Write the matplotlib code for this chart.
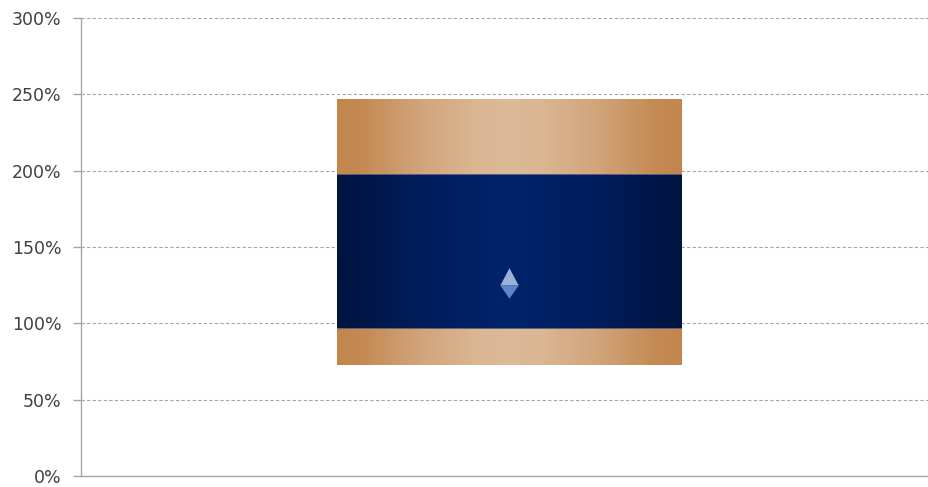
import numpy as np
import matplotlib.pyplot as plt
from matplotlib.colors import LinearSegmentedColormap
from matplotlib.path import Path
from matplotlib.ticker import FuncFormatter

# range values (percent)
low = 73
q1 = 97
q3 = 198
high = 247
point = 125
y_ticks = [0, 50, 100, 150, 200, 250, 300]

copper = LinearSegmentedColormap.from_list(
    "copper_band",
    [(0.0, "#c2864c"), (0.08, "#c58b55"), (0.25, "#d2a57c"), (0.4, "#dab692"),
     (0.5, "#dcba98"), (0.6, "#dab692"), (0.75, "#d2a57c"), (0.92, "#c58b55"),
     (1.0, "#c2864c")])
navy = LinearSegmentedColormap.from_list(
    "navy_band",
    [(0.0, "#001440"), (0.1, "#00174a"), (0.3, "#001f60"), (0.5, "#00236b"),
     (0.7, "#001f60"), (0.9, "#00174a"), (1.0, "#001440")])


def gradient_bar(ax, x, width, bottom, top, cmap):
    ramp = np.linspace(0, 1, 256).reshape(1, -1)
    ax.imshow(ramp, cmap=cmap, aspect="auto", interpolation="bilinear",
              extent=(x - width / 2, x + width / 2, bottom, top), zorder=2)


def main():
    fig = plt.figure(figsize=(9.29, 4.87), dpi=100)
    ax = fig.add_axes([81 / 929, 11 / 487, 848 / 929, 458 / 487])

    x = 0.0
    w = 0.406
    gradient_bar(ax, x, w, low, q1, copper)
    gradient_bar(ax, x, w, q1, q3, navy)
    gradient_bar(ax, x, w, q3, high, copper)
    for edge in (q1, q3):
        ax.plot([x - w / 2, x + w / 2], [edge, edge], color="#5d6180",
                lw=0.7, zorder=3)

    # marker: light triangle over a darker half diamond
    top_half = Path([(0, 1.0), (-0.53, 0), (0.53, 0), (0, 1.0)],
                    [Path.MOVETO, Path.LINETO, Path.LINETO, Path.CLOSEPOLY])
    bottom_half = Path([(-0.53, 0), (0.53, 0), (0, -0.76), (-0.53, 0)],
                       [Path.MOVETO, Path.LINETO, Path.LINETO, Path.CLOSEPOLY])
    ms = 25
    ax.plot([x], [point], marker=top_half, ms=ms, color="#9bb0d8",
            mec="none", ls="none", zorder=4)
    ax.plot([x], [point], marker=bottom_half, ms=ms * 0.76, color="#5a86c4",
            mec="none", ls="none", zorder=4)

    ax.set_xlim(-0.505, 0.495)
    ax.set_ylim(0, 300)
    ax.set_yticks(y_ticks)
    ax.yaxis.set_major_formatter(FuncFormatter(lambda v, _: f"{v:.0f}%"))
    ax.set_xticks([])
    ax.grid(axis="y", color="#a6a6a6", ls=(0, (3, 2)), lw=0.8, zorder=1)
    ax.set_axisbelow(True)
    for side in ("top", "right"):
        ax.spines[side].set_visible(False)
    for side in ("left", "bottom"):
        ax.spines[side].set_color("#a6a6a6")
        ax.spines[side].set_linewidth(1.0)
    ax.tick_params(axis="y", length=6, width=1.0, color="#a6a6a6", pad=8,
                   labelsize=12.5, labelcolor="#404040")

    fig.savefig("out.png", dpi=100)


if __name__ == "__main__":
    main()
